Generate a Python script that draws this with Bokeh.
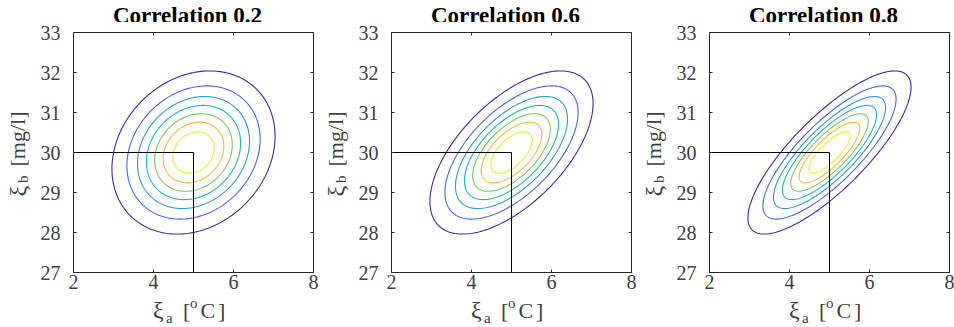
import numpy as np
from bokeh.plotting import figure
from bokeh.layouts import row, column
from bokeh.models import LinearAxis, Label, FixedTicker, Range1d, ColumnDataSource
from bokeh.embed import file_html
from bokeh.resources import INLINE

# ---------------- data ----------------
correlations = [0.2, 0.6, 0.8]
titles = ["Correlation 0.2", "Correlation 0.6", "Correlation 0.8"]
mean_a = 5.0      # xi_a [oC]
mean_b = 30.0     # xi_b [mg/l]
sd_a = 1.0
sd_b = 1.0
# contour levels as fractions of the peak density (outer -> inner)
level_fractions = [0.125, 0.25, 0.375, 0.5, 0.625, 0.75, 0.875]
level_colors = ["#3E26A8", "#4766EE", "#2F95E4", "#18B8BD", "#7DC75A", "#F9B53C", "#F2EA1E"]
x_ticks = [2, 4, 6, 8]
y_ticks = [27, 28, 29, 30, 31, 32, 33]
x_lim = (2, 8)
y_lim = (27, 33)

# ---------------- style ----------------
SERIF = "'Liberation Serif', 'Times New Roman', serif"
AX_COL = "#262626"
TICK_TXT = "#404040"
FW = FH = 240
YLAB_W = 34          # width of y-label strip
TOP_H = 22           # height of title strip
P_LEFT, P_RIGHT, P_TOP, P_BOTTOM = 39, 5, 10, 25
PANEL_W = 318
COL_W = PANEL_W - YLAB_W
P_H = P_TOP + FH + P_BOTTOM
X_H = 327 - TOP_H - P_H
X0 = TOP_H + P_H      # page y of the x-label strip


def ellipse(rho, frac, n=240):
    d = np.sqrt(-2.0 * np.log(frac))
    cov = np.array([[sd_a ** 2, rho * sd_a * sd_b], [rho * sd_a * sd_b, sd_b ** 2]])
    L = np.linalg.cholesky(cov)
    t = np.linspace(0, 2 * np.pi, n)
    pts = L @ np.vstack([d * np.cos(t), d * np.sin(t)])
    return list(pts[0] + mean_a), list(pts[1] + mean_b)


def text_fig(w, h, left, right, fw):
    f = figure(width=w, height=h, x_range=Range1d(0, fw), y_range=Range1d(h, 0),
               min_border=0, min_border_left=left, min_border_right=right,
               min_border_top=0, min_border_bottom=0,
               toolbar_location=None, output_backend="svg",
               x_axis_location=None, y_axis_location=None)
    f.outline_line_color = None
    f.xgrid.visible = False
    f.ygrid.visible = False
    f.background_fill_color = "white"
    f.border_fill_color = "white"
    return f


def lab(f, x, y, text, size, angle=0.0, bold=False, color=TICK_TXT, align="left"):
    f.add_layout(Label(x=x, y=y, text=text, text_font=SERIF, text_font_size=size,
                       text_font_style="bold" if bold else "normal",
                       text_color=color, text_align=align, text_baseline="middle",
                       angle=angle))


def make_plot(rho):
    p = figure(frame_width=FW, frame_height=FH,
               x_range=Range1d(*x_lim), y_range=Range1d(*y_lim),
               output_backend="svg", toolbar_location=None,
               min_border_left=P_LEFT, min_border_right=P_RIGHT,
               min_border_top=P_TOP, min_border_bottom=P_BOTTOM,
               x_axis_location=None, y_axis_location=None)
    p.outline_line_color = None
    p.background_fill_color = "white"
    p.border_fill_color = "white"
    p.xgrid.visible = False
    p.ygrid.visible = False

    for loc, ticks in (("below", x_ticks), ("left", y_ticks), ("above", x_ticks), ("right", y_ticks)):
        ax = LinearAxis(ticker=FixedTicker(ticks=ticks),
                        axis_line_color=AX_COL, axis_line_width=1,
                        major_tick_line_color=AX_COL, major_tick_in=3, major_tick_out=0,
                        minor_tick_line_color=None,
                        major_label_text_font=SERIF, major_label_text_color=TICK_TXT)
        if loc in ("above", "right"):
            ax.major_label_text_font_size = "1px"
            ax.major_label_text_color = None
            ax.major_label_standoff = 0
        else:
            ax.major_label_text_font_size = "20px"
            ax.major_label_standoff = 13 if loc == "left" else 2
        p.add_layout(ax, loc)

    xs, ys = [], []
    for fr in level_fractions:
        ex, ey = ellipse(rho, fr)
        xs.append(ex)
        ys.append(ey)
    src = ColumnDataSource(dict(xs=xs, ys=ys, c=level_colors))
    p.multi_line("xs", "ys", line_color="c", line_width=1.1, source=src)

    # reference lines at the mean
    p.line([x_lim[0], mean_a, mean_a], [mean_b, mean_b, y_lim[0]], line_color="black", line_width=1)
    return p


def make_panel(i):
    # title strip (frame aligned with the plot frame: x in frame pixels)
    t = text_fig(COL_W, TOP_H, P_LEFT, P_RIGHT, FW)
    lab(t, 114, 14.5, titles[i], "23px", bold=True, color="black", align="center")

    p = make_plot(correlations[i])

    # x label: xi_a [oC]  (x in frame pixels, y in strip pixels)
    xl = text_fig(COL_W, X_H, P_LEFT, P_RIGHT, FW)
    lab(xl, 79.5, 309.5 - X0, "ξ", "24px")
    lab(xl, 92.5, 317 - X0, "a", "15px")
    lab(xl, 109.5, 309.5 - X0, "[", "22px")
    lab(xl, 116.5, 302 - X0, "o", "15px")
    lab(xl, 127, 309.5 - X0, "C", "22px")
    lab(xl, 144.5, 309.5 - X0, "]", "22px")

    # y label: xi_b [mg/l] (rotated)
    yl = text_fig(YLAB_W, 327, 0, 0, YLAB_W)
    ang = np.pi / 2
    lab(yl, 17, 196, "ξ", "24px", angle=ang)
    lab(yl, 22, 182.5, "b", "15px", angle=ang)
    lab(yl, 16.5, 166, "[mg/l]", "22px", angle=ang)

    return row(yl, column(t, p, xl))


layout = row(make_panel(0), make_panel(1), make_panel(2))
open("out.html", "w").write(file_html(layout, INLINE))
